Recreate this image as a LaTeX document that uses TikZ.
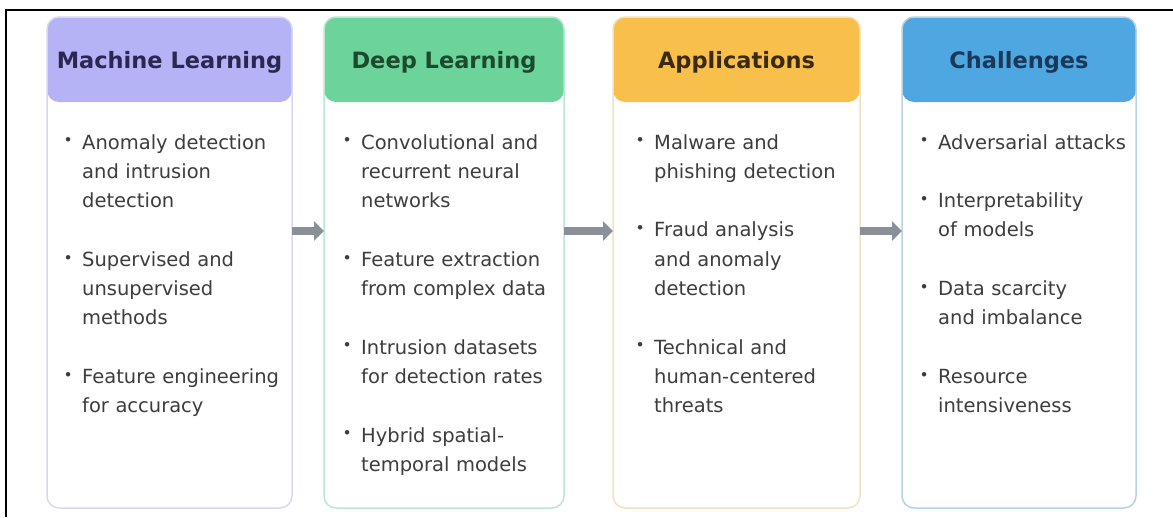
\documentclass[tikz,border=0pt]{standalone}
\usepackage{fontspec}
\setmainfont{DejaVu Sans}
\usetikzlibrary{positioning,arrows.meta}

\definecolor{mlhead}{HTML}{B5B2F6}
\definecolor{mlline}{HTML}{D9D7F1}
\definecolor{mltext}{HTML}{2A2850}
\definecolor{dlhead}{HTML}{6CD39A}
\definecolor{dlline}{HTML}{B9E6D6}
\definecolor{dltext}{HTML}{1D4A2D}
\definecolor{aphead}{HTML}{F8C04A}
\definecolor{apline}{HTML}{F2E2BF}
\definecolor{aptext}{HTML}{3A2A12}
\definecolor{chhead}{HTML}{4FA7E1}
\definecolor{chline}{HTML}{B8D2E7}
\definecolor{chtext}{HTML}{1B3858}
\definecolor{arrowgray}{HTML}{8A8F98}
\definecolor{bodytext}{HTML}{3D3D3D}

\tikzset{
  panel/.style 2 args={draw=#1, line width=1.5pt, fill=white, rounded corners=12pt,
    inner sep=0pt, outer sep=0pt, minimum height=491pt,
    path picture={\fill[#2] (path picture bounding box.north west)
      rectangle ([yshift=-85pt]path picture bounding box.north east);}},
  headtitle/.style={font=\fontsize{22.5}{27}\selectfont\bfseries, text=#1},
  itemtext/.style={font=\fontsize{19.5}{29.3}\selectfont, text=bodytext, align=left,
    text width=210pt, inner sep=0pt, anchor=base west},
  flow/.style={arrowgray, line width=8.5pt, -{Triangle[width=19pt,length=10pt]}}
}
\newcommand{\dotitem}{\leavevmode\llap{\raisebox{3.2pt}{\fontsize{15.5}{15.5}\selectfont\textbullet}\hspace{9.5pt}}}

\begin{document}
\begin{tikzpicture}[x=1pt,y=-1pt]
  \useasboundingbox (0,0) rectangle (1173,517);
  % page frame, only top and left edges show
  \draw[line width=2pt] (6,517) -- (6,10) -- (1173,10);

  % the four panels with their coloured heads
  \node[panel={mlline}{mlhead}, minimum width=245pt] (ml) at (169.5,262.5) {};
  \node[panel={dlline}{dlhead}, minimum width=240pt] (dl) at (444,262.5) {};
  \node[panel={apline}{aphead}, minimum width=247pt] (ap) at (736.5,262.5) {};
  \node[panel={chline}{chhead}, minimum width=234pt] (ch) at (1019,262.5) {};

  % titles
  \node[headtitle=mltext] (mltitle) at ([yshift=-45pt]ml.north) {Machine Learning};
  \node[headtitle=dltext] (dltitle) at ([yshift=-45pt]dl.north) {Deep Learning};
  \node[headtitle=aptext] (aptitle) at ([yshift=-45pt]ap.north) {Applications};
  \node[headtitle=chtext] (chtitle) at ([yshift=-45pt]ch.north) {Challenges};

  % bullet lists
  \node[itemtext] (mlitems) at ([shift={(35,132)}]ml.north west)
    {\dotitem Anomaly detection\\and intrusion\\detection\\[29.3pt]
     \dotitem Supervised and\\unsupervised\\methods\\[29.3pt]
     \dotitem Feature engineering\\for accuracy};
  \node[itemtext] (dlitems) at ([shift={(37,132)}]dl.north west)
    {\dotitem Convolutional and\\recurrent neural\\networks\\[29.3pt]
     \dotitem Feature extraction\\from complex data\\[29.3pt]
     \dotitem Intrusion datasets\\for detection rates\\[29.3pt]
     \dotitem Hybrid spatial-\\temporal models};
  \node[itemtext] (apitems) at ([shift={(41,132)}]ap.north west)
    {\dotitem Malware and\\phishing detection\\[29.3pt]
     \dotitem Fraud analysis\\and anomaly\\detection\\[29.3pt]
     \dotitem Technical and\\human-centered\\threats};
  \node[itemtext] (chitems) at ([shift={(36,132)}]ch.north west)
    {\dotitem Adversarial attacks\\[29.3pt]
     \dotitem Interpretability\\of models\\[29.3pt]
     \dotitem Data scarcity\\and imbalance\\[29.3pt]
     \dotitem Resource\\intensiveness};

  % arrows between panels
  \draw[flow] ([yshift=31.5pt]ml.east) -- ([yshift=31.5pt]dl.west);
  \draw[flow] ([yshift=31.5pt]dl.east) -- ([yshift=31.5pt]ap.west);
  \draw[flow] ([yshift=31.5pt]ap.east) -- ([yshift=31.5pt]ch.west);
\end{tikzpicture}
\end{document}
